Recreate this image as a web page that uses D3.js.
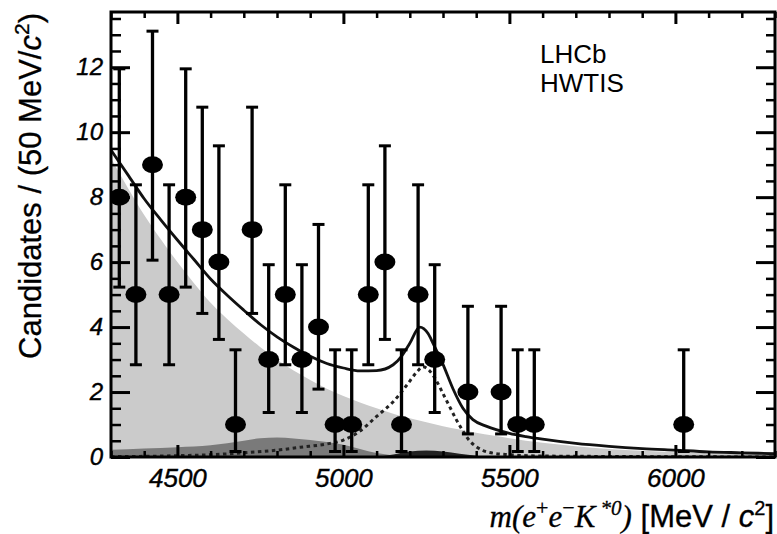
<!doctype html>
<html>
<head>
<script src="https://cdn.jsdelivr.net/npm/d3@7/dist/d3.min.js"></script>
<style>body { margin: 0; background: #fff; }</style>
</head>
<body>
<svg width="777" height="534"></svg>
<script>
// data points: bin centres [MeV/c2], counts and Poisson error bounds
var mass   = [4325,4375,4425,4475,4525,4575,4625,4675,4725,4775,4825,4875,4925,4975,5025,5075,5125,5175,5225,5275,5375,5475,5525,5575,6025];
var counts = [8,5,9,5,8,7,6,1,7,3,5,3,4,1,1,5,6,1,5,3,2,2,1,1,1];
var errLow  = [5.23,2.84,6.06,2.84,5.23,4.42,3.62,0.17,4.42,1.37,2.84,1.37,2.09,0.17,0.17,2.84,3.62,0.17,2.84,1.37,0.71,0.71,0.17,0.17,0.17];
var errHigh = [11.95,8.38,13.11,8.38,11.95,10.77,9.58,3.30,10.77,5.92,8.38,5.92,7.16,3.30,3.30,8.38,9.58,3.30,8.38,5.92,4.64,4.64,3.30,3.30,3.30];

// total fit (solid line)
var fitMass  = [4300,4350,4400,4450,4500,4550,4600,4650,4700,4750,4800,4850,4900,4950,5000,5050,5100,5150,5175,5200,5230,5255,5270,5300,5330,5360,5390,5430,5500,5550,5600,5700,5800,5900,6000,6100,6200,6300];
var fitTotal = [9.45,8.7,7.95,7.3,6.68,6.08,5.48,4.98,4.52,4.08,3.7,3.38,3.1,2.88,2.74,2.65,2.66,2.84,3.1,3.5,4.0,3.8,3.5,2.85,2.1,1.5,1.15,0.95,0.73,0.63,0.55,0.42,0.33,0.26,0.21,0.16,0.13,0.1];

// signal component (dotted line)
var sigMass = [4300,4400,4500,4600,4700,4800,4870,4950,5000,5050,5100,5150,5190,5220,5240,5260,5280,5300,5320,5340,5360,5380,5400,5420,5450,5500,5600,6300];
var sigVals = [0.01,0.02,0.04,0.07,0.13,0.21,0.3,0.4,0.52,0.8,1.25,1.7,2.2,2.6,2.78,2.65,2.35,1.95,1.55,1.15,0.8,0.5,0.32,0.2,0.12,0.07,0.03,0.0];

// partially reconstructed background (light grey)
var bkgMass = [4300,4350,4400,4450,4500,4550,4600,4650,4700,4750,4800,4850,4900,4950,5000,5050,5100,5150,5200,5250,5300,5350,5400,5450,5500,5550,5600,5700,5800,5900,6000,6100,6200,6300];
var bkgVals = [9.2,8.3,7.45,6.7,6.0,5.35,4.75,4.25,3.8,3.38,3.0,2.66,2.37,2.1,1.88,1.68,1.5,1.33,1.19,1.07,0.95,0.85,0.75,0.66,0.58,0.5,0.44,0.33,0.25,0.19,0.15,0.12,0.1,0.08];

// other background (dark grey)
var otherMass = [4300,4400,4500,4600,4650,4700,4750,4800,4850,4900,4950,5000,5050,5100,5150,5200];
var otherVals = [0.22,0.26,0.3,0.36,0.42,0.5,0.58,0.6,0.57,0.52,0.46,0.38,0.25,0.12,0.05,0.0];

// peaking background (black)
var peakMass = [5100,5150,5200,5250,5300,5350,5400,5450];
var peakVals = [0,0.08,0.17,0.2,0.17,0.1,0.04,0];

var xMajor = [4500,5000,5500,6000];
var yMajor = [0,2,4,6,8,10,12];

var svg = d3.select("svg"),
    plotL = 111, plotR = 775, plotT = 12, plotB = 457;

var x = d3.scaleLinear().domain([4300, 6300]).range([plotL, plotR]),
    y = d3.scaleLinear().domain([0, 13.7]).range([plotB, plotT]);

svg.append("clipPath").attr("id", "plot")
  .append("rect")
  .attr("x", plotL).attr("y", plotT)
  .attr("width", plotR - plotL).attr("height", plotB - plotT);

var plot = svg.append("g").attr("clip-path", "url(#plot)");

function zip(a, b) { return a.map(function (d, i) { return [d, b[i]]; }); }

var area = d3.area()
  .x(function (d) { return x(d[0]); })
  .y0(y(0))
  .y1(function (d) { return y(d[1]); })
  .curve(d3.curveMonotoneX);

var line = d3.line()
  .x(function (d) { return x(d[0]); })
  .y(function (d) { return y(d[1]); })
  .curve(d3.curveMonotoneX);

// fills
plot.append("path").datum(zip(bkgMass, bkgVals)).attr("d", area).style("fill", "#cbcbcb");
plot.append("path").datum(zip(otherMass, otherVals)).attr("d", area).style("fill", "#7a7a7a");
plot.append("path").datum(zip(peakMass, peakVals)).attr("d", area).style("fill", "#222");

// curves
plot.append("path").datum(zip(sigMass, sigVals)).attr("d", line)
  .style("fill", "none").style("stroke", "#222").style("stroke-width", 3)
  .style("stroke-dasharray", "3.5,3.5");
plot.append("path").datum(zip(fitMass, fitTotal)).attr("d", line)
  .style("fill", "none").style("stroke", "#111").style("stroke-width", 2.8);

// data points with error bars
var pts = mass.map(function (m, i) { return { m: m, n: counts[i], lo: errLow[i], hi: errHigh[i] }; });
var pg = plot.append("g").selectAll("g").data(pts).enter().append("g");
pg.append("line")
  .attr("x1", function (d) { return x(d.m); }).attr("x2", function (d) { return x(d.m); })
  .attr("y1", function (d) { return y(d.lo); }).attr("y2", function (d) { return y(d.hi); })
  .style("stroke", "#000").style("stroke-width", 3.3);
pg.selectAll(".cap").data(function (d) { return [[d.m, d.lo], [d.m, d.hi]]; }).enter().append("line")
  .attr("x1", function (d) { return x(d[0]) - 6; }).attr("x2", function (d) { return x(d[0]) + 6; })
  .attr("y1", function (d) { return y(d[1]); }).attr("y2", function (d) { return y(d[1]); })
  .style("stroke", "#000").style("stroke-width", 3);
pg.append("ellipse")
  .attr("cx", function (d) { return x(d.m); }).attr("cy", function (d) { return y(d.n); })
  .attr("rx", 10.5).attr("ry", 8.5)
  .style("fill", "#000");

// axes: ticks inside on all four sides
function clean(g, size) {
  g.select(".domain").remove();
  g.selectAll("line").style("stroke", "#000").style("stroke-width", size);
}
var xMinor = d3.range(4300, 6301, 100).filter(function (d) { return xMajor.indexOf(d) < 0; });
var yMinor = d3.range(0, 13.7, 0.5).filter(function (d) { return yMajor.indexOf(d) < 0; });

svg.append("g").attr("transform", "translate(0," + plotB + ")")
  .call(d3.axisBottom(x).tickValues(xMinor).tickSize(-6).tickFormat(""))
  .call(clean, 2.5);
svg.append("g").attr("transform", "translate(0," + plotT + ")")
  .call(d3.axisTop(x).tickValues(xMinor).tickSize(-6).tickFormat(""))
  .call(clean, 2.5);
svg.append("g").attr("transform", "translate(0," + plotT + ")")
  .call(d3.axisTop(x).tickValues(xMajor).tickSize(-12).tickFormat(""))
  .call(clean, 3);
var xAxis = svg.append("g").attr("transform", "translate(0," + plotB + ")")
  .call(d3.axisBottom(x).tickValues(xMajor).tickSize(-12).tickPadding(12).tickFormat(d3.format("d")))
  .call(clean, 3);
xAxis.selectAll("text")
  .style("font-family", "Liberation Sans").style("font-style", "italic")
  .style("font-size", "26px").style("fill", "#000")
  .style("stroke", "#000").style("stroke-width", 0.4);

svg.append("g").attr("transform", "translate(" + plotL + ",0)")
  .call(d3.axisLeft(y).tickValues(yMinor).tickSize(-10).tickFormat(""))
  .call(clean, 2.5);
svg.append("g").attr("transform", "translate(" + plotR + ",0)")
  .call(d3.axisRight(y).tickValues(yMinor).tickSize(-9).tickFormat(""))
  .call(clean, 2.5);
svg.append("g").attr("transform", "translate(" + plotR + ",0)")
  .call(d3.axisRight(y).tickValues(yMajor).tickSize(-19).tickFormat(""))
  .call(clean, 3);
var yAxis = svg.append("g").attr("transform", "translate(" + plotL + ",0)")
  .call(d3.axisLeft(y).tickValues(yMajor).tickSize(-19).tickPadding(8).tickFormat(d3.format("d")))
  .call(clean, 3);
yAxis.selectAll("text")
  .style("font-family", "Liberation Sans").style("font-style", "italic")
  .style("font-size", "24px").style("fill", "#000")
  .style("stroke", "#000").style("stroke-width", 0.4);

// frame
svg.append("rect")
  .attr("x", plotL).attr("y", plotT)
  .attr("width", plotR - plotL).attr("height", plotB - plotT)
  .style("fill", "none").style("stroke", "#000").style("stroke-width", 3);

// Y title
var yt = svg.append("text")
  .attr("transform", "translate(41,13)rotate(-90)")
  .attr("text-anchor", "end")
  .style("font-family", "Liberation Sans").style("font-size", "31px").style("fill", "#000")
  .style("stroke", "#000").style("stroke-width", 0.3);
yt.append("tspan").text("Candidates / (50 MeV/");
yt.append("tspan").style("font-style", "italic").text("c");
yt.append("tspan").attr("dy", -12).style("font-size", "21px").text("2");
yt.append("tspan").attr("dy", 12).text(")");

// X title
var xt = svg.append("text")
  .attr("x", 774).attr("y", 527)
  .attr("text-anchor", "end")
  .style("font-size", "31px").style("fill", "#000")
  .style("stroke", "#000").style("stroke-width", 0.3);
var serif = "Liberation Serif";
xt.append("tspan").style("font-family", serif).style("font-style", "italic").text("m(e");
xt.append("tspan").attr("dy", -12).style("font-family", serif).style("font-size", "22px").text("+");
xt.append("tspan").attr("dy", 12).style("font-family", serif).style("font-style", "italic").text("e");
xt.append("tspan").attr("dy", -12).style("font-family", serif).style("font-size", "22px").text("\u2212");
xt.append("tspan").attr("dy", 12).style("font-family", serif).style("font-style", "italic").text("K");
xt.append("tspan").attr("dy", -12).style("font-family", serif).style("font-style", "italic").style("font-size", "21px").text(" *0");
xt.append("tspan").attr("dy", 12).style("font-family", serif).style("font-style", "italic").text(")");
xt.append("tspan").style("font-family", "Liberation Sans").text(" [MeV / ");
xt.append("tspan").style("font-family", "Liberation Sans").style("font-style", "italic").text("c");
xt.append("tspan").attr("dy", -12).style("font-family", "Liberation Sans").style("font-size", "20px").text("2");
xt.append("tspan").attr("dy", 12).style("font-family", "Liberation Sans").text("]");

// LHCb label
svg.append("text").attr("x", 540).attr("y", 63)
  .style("font-family", "Liberation Sans").style("font-size", "26px").style("fill", "#000")
  .text("LHCb");
svg.append("text").attr("x", 540).attr("y", 92)
  .style("font-family", "Liberation Sans").style("font-size", "26px").style("fill", "#000")
  .text("HWTIS");
</script>
</body>
</html>
